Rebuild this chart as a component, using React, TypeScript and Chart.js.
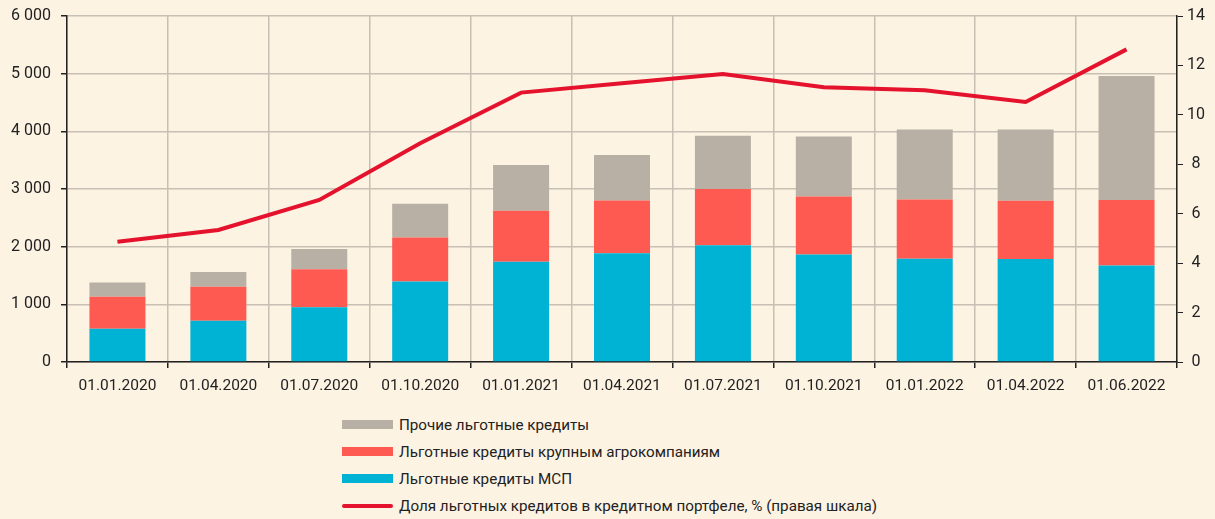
import React, { useEffect, useRef } from "react";
import { Chart, registerables } from "chart.js";

Chart.register(...registerables);

const categories = [
  "01.01.2020", "01.04.2020", "01.07.2020", "01.10.2020", "01.01.2021", "01.04.2021",
  "01.07.2021", "01.10.2021", "01.01.2022", "01.04.2022", "01.06.2022",
];
const mspLoans = [575, 715, 950, 1395, 1740, 1885, 2025, 1865, 1790, 1785, 1675];
const agroLoans = [555, 590, 660, 765, 885, 915, 975, 1005, 1030, 1010, 1135];
const otherLoans = [250, 255, 350, 585, 790, 790, 925, 1040, 1210, 1235, 2150];
const sharePct = [4.87, 5.34, 6.56, 8.85, 10.9, 11.28, 11.65, 11.12, 11.0, 10.52, 12.65];

const legendItems = [
  { label: "Прочие льготные кредиты", color: "#B8B0A4", line: false },
  { label: "Льготные кредиты крупным агрокомпаниям", color: "#FF5A52", line: false },
  { label: "Льготные кредиты МСП", color: "#00B2D3", line: false },
  { label: "Доля льготных кредитов в кредитном портфеле, % (правая шкала)", color: "#E4122C", line: true },
];

const BG = "#FDF3E3";
const GRID = "#C8C0B4";
const FONT = "Roboto, 'Noto Sans', sans-serif";

const fmt = (v: number) => {
  const s = String(Math.round(v));
  return s.replace(/\B(?=(\d{3})+(?!\d))/g, " ");
};

export default function App() {
  const ref = useRef<HTMLCanvasElement | null>(null);

  useEffect(() => {
    document.body.style.margin = "0";
    document.body.style.background = BG;
    const ctx = ref.current!.getContext("2d")!;
    const chart = new Chart(ctx, {
      data: {
        labels: categories,
        datasets: [
          {
            type: "line",
            label: legendItems[3].label,
            data: sharePct,
            yAxisID: "y2",
            borderColor: "#E4122C",
            borderWidth: 4,
            pointRadius: 0,
            tension: 0,
            order: 0,
          },
          {
            type: "bar",
            label: legendItems[2].label,
            data: mspLoans,
            backgroundColor: "#00B2D3",
            yAxisID: "y",
            order: 1,
          },
          {
            type: "bar",
            label: legendItems[1].label,
            data: agroLoans,
            backgroundColor: "#FF5A52",
            yAxisID: "y",
            order: 1,
          },
          {
            type: "bar",
            label: legendItems[0].label,
            data: otherLoans,
            backgroundColor: "#B8B0A4",
            yAxisID: "y",
            order: 1,
          },
        ],
      } as any,
      options: {
        animation: false,
        responsive: false,
        maintainAspectRatio: false,
        layout: { padding: { top: 16, left: 0, right: 0, bottom: 0 } },
        datasets: {
          bar: { barPercentage: 0.555, categoryPercentage: 1 },
        } as any,
        plugins: {
          legend: { display: false },
          tooltip: { enabled: false },
        },
        scales: {
          x: {
            stacked: true,
            grid: {
              offset: true,
              color: GRID,
              lineWidth: 1.5,
              tickColor: "#222",
              tickLength: 6,
              drawOnChartArea: true,
            },
            border: { color: "#222", width: 1.5 },
            ticks: {
              color: "#222",
              font: { family: FONT, size: 15.5 },
              padding: 9,
              maxRotation: 0,
              autoSkip: false,
            },
            afterFit: (s: any) => {
              s.height = 38;
            },
          },
          y: {
            stacked: true,
            position: "left",
            min: 0,
            max: 6000,
            ticks: {
              stepSize: 1000,
              color: "#222",
              font: { family: FONT, size: 16 },
              padding: 10,
              callback: (v: any) => fmt(Number(v)),
            },
            grid: { color: GRID, lineWidth: 1.5, tickColor: "#222", tickLength: 6 },
            border: { color: "#222", width: 1.5 },
            afterFit: (s: any) => {
              s.width = 67;
              s.paddingTop = 0;
              s.paddingBottom = 0;
            },
          },
          y2: {
            position: "right",
            min: 0,
            max: 14,
            ticks: {
              stepSize: 2,
              color: "#222",
              font: { family: FONT, size: 16 },
              padding: 4,
              crossAlign: "center",
            },
            grid: { drawOnChartArea: false, tickColor: "#222", tickLength: 6 },
            border: { color: "#222", width: 1.5 },
            afterFit: (s: any) => {
              s.width = 38;
              s.paddingTop = 0;
              s.paddingBottom = 0;
            },
          },
        },
      } as any,
    });
    return () => chart.destroy();
  }, []);

  return (
    <div style={{ position: "relative", width: 1215, height: 519, background: BG, overflow: "hidden" }}>
      <canvas ref={ref} width={1215} height={400} style={{ display: "block", width: 1215, height: 400 }} />
      <div style={{ position: "absolute", left: 342, top: 411, fontFamily: FONT, fontSize: 15.2, color: "#222" }}>
        {legendItems.map((it, i) => (
          <div key={i} style={{ display: "flex", alignItems: "center", height: 27.2, whiteSpace: "nowrap" }}>
            <div
              style={{
                width: 51,
                height: it.line ? 4 : 9,
                background: it.color,
                borderRadius: it.line ? 2 : 0,
                marginRight: 6,
              }}
            />
            <span>{it.label}</span>
          </div>
        ))}
      </div>
    </div>
  );
}
